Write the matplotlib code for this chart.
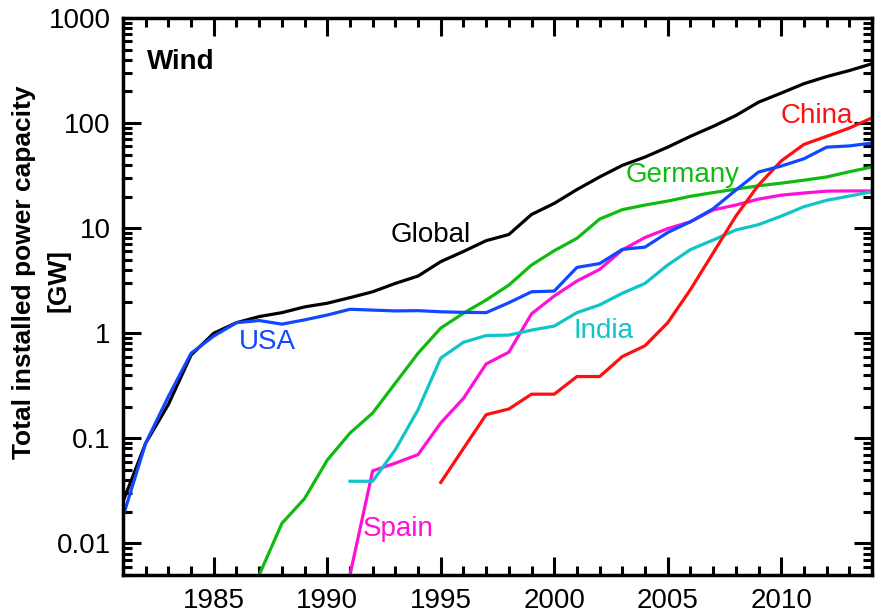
import matplotlib
matplotlib.use("Agg")
import matplotlib.pyplot as plt
from matplotlib.ticker import FixedLocator, FixedFormatter, LogLocator, NullFormatter
import numpy as np

plt.rcParams['font.family'] = ['Liberation Sans', 'DejaVu Sans']

years_global = list(range(1981, 2015))
global_cap = [0.025, 0.09, 0.21, 0.62, 1.0, 1.26, 1.44, 1.57, 1.78, 1.93, 2.18, 2.48, 2.98, 3.5,
              4.8, 6.0, 7.6, 8.7, 13.5, 17.2, 23.3, 30.7, 39.6, 47.5, 59, 74.8, 93, 118, 158,
              193, 237, 277, 316, 367]

years_usa = list(range(1981, 2015))
usa_cap = [0.018, 0.09, 0.25, 0.645, 0.94, 1.26, 1.32, 1.22, 1.34, 1.49, 1.69, 1.66, 1.63, 1.64,
           1.6, 1.58, 1.57, 1.95, 2.48, 2.52, 4.23, 4.6, 6.28, 6.6, 9.1, 11.5, 15.3, 23, 34.2,
           39, 45.7, 59, 60.6, 64.6]

years_germany = list(range(1987, 2015))
germany_cap = [0.005, 0.0155, 0.0267, 0.062, 0.112, 0.174, 0.335, 0.645, 1.12, 1.55, 2.07, 2.87,
               4.46, 6.1, 8.0, 12.2, 15.0, 16.6, 18.1, 20.1, 21.8, 23.5, 25.3, 26.8, 28.6, 30.7,
               34.4, 38.2]

years_spain = list(range(1991, 2015))
spain_cap = [0.005, 0.049, 0.058, 0.07, 0.14, 0.24, 0.51, 0.66, 1.53, 2.26, 3.14, 4.05, 6.2, 8.15,
             9.9, 11.5, 14.9, 16.6, 18.9, 20.6, 21.6, 22.5, 22.6, 22.6]

years_india = list(range(1991, 2015))
india_cap = [0.039, 0.039, 0.078, 0.187, 0.58, 0.82, 0.95, 0.96, 1.07, 1.17, 1.57, 1.86, 2.4, 2.98,
             4.46, 6.25, 7.7, 9.6, 10.8, 13.0, 16.0, 18.4, 20.2, 22.2]

years_china = list(range(1995, 2015))
china_cap = [0.038, 0.08, 0.168, 0.19, 0.263, 0.263, 0.387, 0.387, 0.6, 0.76, 1.26, 2.6, 5.8,
             13.0, 25.7, 43.6, 62.6, 74.8, 89.6, 112]

ytick_vals = [0.01, 0.1, 1, 10, 100, 1000]
ytick_labels = ['0.01', '0.1', '1', '10', '100', '1000']
xtick_vals = [1985, 1990, 1995, 2000, 2005, 2010]
xtick_labels = ['1985', '1990', '1995', '2000', '2005', '2010']
ylabel_lines = ['Total installed power capacity', '[GW]']

c_global = 'black'
c_usa = '#1048ff'
c_germany = '#10bb10'
c_spain = '#ff10d8'
c_india = '#10c4c8'
c_china = '#ff1010'

fig = plt.figure(figsize=(8.75, 6.15), dpi=100)
ax = fig.add_axes([123/875, 1-575/615, (872-123)/875, (575-18)/615])

lw = 2.3
ax.plot(years_germany, germany_cap, color=c_germany, lw=lw)
ax.plot(years_spain, spain_cap, color=c_spain, lw=lw)
ax.plot(years_india, india_cap, color=c_india, lw=lw)
ax.plot(years_china, china_cap, color=c_china, lw=lw)
ax.plot(years_global, global_cap, color=c_global, lw=lw)
ax.plot(years_usa, usa_cap, color=c_usa, lw=lw)

ax.set_yscale('log')
ax.set_xlim(1981, 2014)
ax.set_ylim(0.005, 1000)

ax.xaxis.set_major_locator(FixedLocator(xtick_vals))
ax.xaxis.set_major_formatter(FixedFormatter(xtick_labels))
ax.xaxis.set_minor_locator(FixedLocator(list(range(1981, 2015))))
ax.yaxis.set_major_locator(FixedLocator(ytick_vals))
ax.yaxis.set_major_formatter(FixedFormatter(ytick_labels))
ax.yaxis.set_minor_locator(LogLocator(base=10, subs=np.arange(2, 10), numticks=20))
ax.yaxis.set_minor_formatter(NullFormatter())

ax.tick_params(which='both', direction='in', top=True, right=True, width=2.2, colors='black')
ax.tick_params(which='major', length=13, labelsize=20, pad=9)
ax.tick_params(which='minor', length=6.5)
for s in ax.spines.values():
    s.set_linewidth(2.5)

fs = 20
ax.text(1982.04, 328, 'Wind', fontsize=fs, fontweight='bold', ha='left', va='baseline')
ax.text(1994.56, 7.41, 'Global', fontsize=fs, color=c_global, ha='center', va='baseline')
ax.text(2011.55, 100, 'China', fontsize=fs, color=c_china, ha='center', va='baseline')
ax.text(2005.67, 27.5, 'Germany', fontsize=fs, color=c_germany, ha='center', va='baseline')
ax.text(1987.36, 0.705, 'USA', fontsize=fs, color=c_usa, ha='center', va='baseline')
ax.text(2002.18, 0.896, 'India', fontsize=fs, color=c_india, ha='center', va='baseline')
ax.text(1993.14, 0.0117, 'Spain', fontsize=fs, color=c_spain, ha='center', va='baseline')

fig.text(24/875, 1-272/615, ylabel_lines[0], rotation=90,
         ha='center', va='center', fontsize=19, fontweight='bold')
fig.text(59/875, 1-280/615, ylabel_lines[1], rotation=90,
         ha='center', va='center', fontsize=19, fontweight='bold')

fig.savefig('out.png', dpi=100)
